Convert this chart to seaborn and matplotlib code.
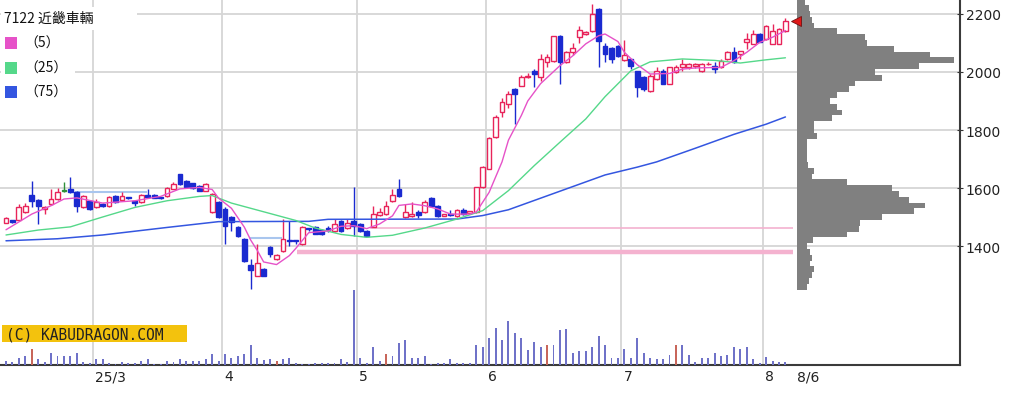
import numpy as np
import pandas as pd
import matplotlib
matplotlib.use("Agg")
import matplotlib.pyplot as plt
from matplotlib.patches import Rectangle
import seaborn as sns

# ----------------------------------------
# Data (daily candles, 7122 Kinki Sharyo)
# ----------------------------------------
title = "7122 近畿車輛"

opens = [1480, 1488, 1490, 1517, 1576, 1559, 1528, 1545, 1562, 1590,
         1597, 1586, 1535, 1555, 1535, 1545, 1538, 1573, 1559, 1568,
         1555, 1552, 1576, 1576, 1568, 1573, 1597, 1648, 1624, 1617,
         1607, 1590, 1517, 1552, 1528, 1500, 1466, 1424, 1335, 1297,
         1321, 1397, 1355, 1383, 1422, 1420, 1407, 1462, 1466, 1455,
         1462, 1452, 1486, 1462, 1486, 1476, 1452, 1466, 1507, 1510,
         1555, 1597, 1500, 1503, 1517, 1517, 1566, 1538, 1505, 1512,
         1503, 1524, 1514, 1517, 1603, 1666, 1776, 1862, 1890, 1941,
         1952, 1983, 2003, 1983, 2034, 2038, 2124, 2034, 2069, 2121,
         2131, 2141, 2217, 2090, 2083, 2090, 2040, 2045, 2003, 1983,
         1934, 1976, 2003, 1959, 2000, 2017, 2017, 2021, 2003, 2026,
         2021, 2017, 2045, 2069, 2062, 2103, 2097, 2131, 2114, 2097,
         2097, 2141]
highs = [1500, 1490, 1545, 1548, 1624, 1562, 1538, 1597, 1600, 1621,
         1638, 1590, 1576, 1558, 1562, 1548, 1572, 1576, 1586, 1568,
         1556, 1580, 1597, 1578, 1570, 1603, 1620, 1650, 1626, 1618,
         1610, 1617, 1582, 1555, 1535, 1505, 1470, 1428, 1355, 1407,
         1323, 1400, 1372, 1493, 1486, 1420, 1470, 1463, 1468, 1457,
         1468, 1493, 1490, 1493, 1603, 1478, 1455, 1538, 1531, 1555,
         1597, 1631, 1545, 1552, 1524, 1557, 1568, 1540, 1512, 1524,
         1527, 1531, 1522, 1605, 1675, 1775, 1850, 1910, 1935, 1945,
         1990, 1995, 2010, 2062, 2062, 2124, 2126, 2072, 2100, 2160,
         2140, 2234, 2220, 2100, 2085, 2092, 2110, 2046, 2005, 1986,
         1993, 2017, 2010, 2018, 2025, 2045, 2030, 2030, 2030, 2035,
         2033, 2045, 2072, 2085, 2074, 2135, 2145, 2133, 2161, 2165,
         2150, 2185]
lows = [1478, 1480, 1488, 1515, 1535, 1476, 1510, 1543, 1560, 1586,
        1583, 1517, 1532, 1525, 1532, 1535, 1535, 1550, 1556, 1562,
        1538, 1550, 1566, 1564, 1562, 1570, 1595, 1612, 1602, 1598,
        1588, 1588, 1515, 1498, 1407, 1452, 1432, 1345, 1252, 1295,
        1295, 1362, 1352, 1380, 1400, 1407, 1405, 1452, 1440, 1438,
        1450, 1450, 1450, 1460, 1435, 1450, 1433, 1464, 1505, 1508,
        1553, 1570, 1498, 1500, 1498, 1515, 1536, 1500, 1503, 1503,
        1500, 1508, 1512, 1515, 1600, 1664, 1774, 1845, 1875, 1821,
        1950, 1980, 1948, 1969, 2017, 2036, 1959, 2032, 2060, 2100,
        2128, 2139, 2017, 2034, 2030, 2052, 2038, 2012, 1914, 1934,
        1932, 1974, 1959, 1957, 1998, 2005, 2010, 2015, 2000, 2024,
        1995, 2015, 2043, 2030, 2045, 2080, 2095, 2103, 2112, 2095,
        2095, 2139]
closes = [1497, 1483, 1535, 1538, 1555, 1538, 1535, 1562, 1586, 1590,
          1586, 1538, 1573, 1528, 1552, 1538, 1569, 1552, 1573, 1564,
          1548, 1576, 1570, 1566, 1564, 1600, 1614, 1614, 1604, 1600,
          1590, 1614, 1579, 1500, 1469, 1483, 1435, 1348, 1318, 1341,
          1297, 1373, 1369, 1424, 1416, 1416, 1466, 1458, 1441, 1441,
          1455, 1476, 1452, 1479, 1469, 1452, 1435, 1510, 1517, 1538,
          1576, 1573, 1517, 1510, 1507, 1552, 1538, 1503, 1510, 1508,
          1524, 1510, 1519, 1603, 1672, 1772, 1845, 1896, 1924, 1924,
          1983, 1986, 1993, 2045, 2052, 2124, 2034, 2069, 2083, 2145,
          2138, 2200, 2107, 2062, 2045, 2055, 2060, 2021, 1948, 1941,
          1986, 2003, 1959, 2017, 2017, 2028, 2028, 2026, 2028, 2029,
          2010, 2038, 2069, 2034, 2072, 2114, 2131, 2103, 2159, 2141,
          2148, 2176]

# volume (arbitrary units), days with a red volume bar
volume = [4, 2.7, 7, 9, 15.7, 5.7, 2.7, 12.3, 9, 9,
          9, 12.3, 3.3, 2.3, 5.7, 5.7, 1.7, 1, 2.7, 1.7,
          2.3, 4, 5.7, 1, 1, 4, 3.3, 5.7, 4, 4,
          4, 5.7, 10.7, 4, 10.7, 7.3, 9, 10.7, 20, 7.3,
          5, 5.7, 4, 5.7, 7.3, 2.3, 0.7, 1, 1.7, 2.3,
          1.7, 2.3, 5.7, 3.3, 75, 7.3, 2.3, 18.3, 4, 10.7,
          9, 21.7, 25, 7.3, 7.3, 9, 1, 1.7, 2.3, 5.7,
          2.3, 2.3, 1.7, 20, 18.3, 26.7, 36.7, 25, 44.3, 31.7,
          26.7, 15, 23.3, 18.3, 20, 20, 35, 36, 12.3, 14,
          14, 18.3, 29.3, 20, 7.3, 7.3, 15.7, 7.3, 26.7, 12.3,
          7.3, 5.7, 5.7, 10, 20, 20, 10, 3.3, 7.3, 7.3,
          11.7, 9, 10, 18.3, 15.7, 18.3, 5.7, 2.3, 8.3, 4,
          2.7, 3.3]
red_volume_days = [4, 42, 59, 84, 104]

# moving averages sampled from the chart (day index -> price)
ma5_days = [0, 4, 7, 9, 11, 15, 20, 24, 27, 30, 32, 33, 35, 37, 38, 39, 40, 42, 44, 45,
            47, 50, 52, 54, 56, 58, 60, 61, 63, 65, 67, 69, 72, 73, 75, 77, 78, 80, 81,
            83, 86, 88, 90, 92, 93, 95, 96, 98, 100, 103, 105, 107, 111, 113, 115, 117,
            119, 121]
ma5_vals = [1456, 1510, 1539, 1562, 1566, 1548, 1556, 1571, 1597, 1602, 1595, 1565, 1530,
            1465, 1420, 1385, 1345, 1336, 1367, 1392, 1446, 1452, 1468, 1470, 1460, 1476,
            1504, 1540, 1545, 1539, 1528, 1510, 1510, 1517, 1585, 1690, 1765, 1850, 1900,
            1960, 2022, 2056, 2097, 2125, 2131, 2105, 2068, 2025, 1993, 1995, 2010, 2014,
            2016, 2039, 2068, 2102, 2120, 2143]
ma25_days = [0, 5, 10, 15, 20, 25, 30, 32, 35, 40, 45, 48, 52, 56, 60, 65, 70, 74, 78,
             82, 86, 90, 93, 97, 100, 105, 110, 114, 118, 121]
ma25_vals = [1438, 1455, 1466, 1500, 1533, 1556, 1571, 1574, 1548, 1518, 1488, 1462, 1440,
             1430, 1437, 1462, 1493, 1522, 1591, 1677, 1758, 1838, 1915, 2004, 2035, 2045,
             2040, 2031, 2042, 2049]
ma75_days = [0, 8, 15, 25, 33, 47, 50, 70, 74, 78, 83, 88, 93, 98, 101, 107, 113, 118, 121]
ma75_vals = [1418, 1425, 1438, 1464, 1484, 1485, 1492, 1493, 1505, 1525, 1565, 1605, 1645,
             1672, 1690, 1737, 1785, 1820, 1845]

# volume-at-price profile (20 yen bins, top to bottom)
profile_prices = list(range(2240, 1250, -20))
profile_vol = [8, 12, 13, 15, 17, 40, 68, 70, 97, 133,
               157, 122, 78, 85, 58, 52, 40, 33, 40, 45,
               35, 17, 17, 20, 10, 10, 10, 10, 11, 17,
               15, 50, 95, 102, 112, 128, 117, 85, 63, 62,
               50, 16, 10, 13, 15, 13, 17, 15, 12, 10]

month_labels = ["25/3", "4", "5", "6", "7", "8"]
month_first_day = [14, 34, 55, 75, 96, 118]
last_label = "8/6"

price_ticks = [1400, 1600, 1800, 2000, 2200]

# ----------------------------------------
# Styling
# ----------------------------------------
sns.set_style("white")
plt.rcParams['font.family'] = ['DejaVu Sans', 'Noto Sans CJK JP']

RED = "#e8245a"
BLUE = "#1a2ad0"
GREEN = "#2f8f3a"
MA5_C = "#e652c8"
MA25_C = "#55d88a"
MA75_C = "#3456e0"
GRID_C = "#d6d6d6"

df = pd.DataFrame({"open": opens, "high": highs, "low": lows, "close": closes, "volume": volume})
df["day"] = np.arange(len(df))

fig = plt.figure(figsize=(10.3, 4.02), dpi=100)
rect = [0, 1 - 366 / 402, 960 / 1030, 366 / 402]
ax = fig.add_axes(rect)
ax.set_xlim(-0.93, 148.1)
ax.set_ylim(989.7, 2251.7)
px_per_day = 960 / (148.1 + 0.93)

# grid
for p in price_ticks:
    ax.axhline(p, color=GRID_C, lw=1.3, zorder=0)
for d in month_first_day:
    ax.axvline(d - 0.5, color=GRID_C, lw=1.3, zorder=0)

# reference lines
ax.hlines(1586, 10.7, 21.9, color="#a9c6ee", lw=1.5, zorder=1)
ax.hlines(1428, 37.7, 42.9, color="#a9c6ee", lw=1.5, zorder=1)
ax.hlines(1462, 56.5, 122.2, color="#f4b2cf", lw=1.2, zorder=1)
ax.hlines(1380, 45.2, 122.2, color="#f4b2cf", lw=3.2, zorder=1)

# candles
up = df["close"] > df["open"]
down = df["close"] < df["open"]
colors = np.where(up, RED, np.where(down, BLUE, GREEN))
ax.vlines(df["day"], df["low"], df["high"], colors=colors, lw=1.0, zorder=3)
body_bottom = np.minimum(df["open"], df["close"])
body_height = np.maximum((df["close"] - df["open"]).abs(), 2.5)
faces = np.where(up, "white", colors)
ax.bar(df["day"], body_height, bottom=body_bottom, width=0.74,
       color=faces, edgecolor=colors, linewidth=1.0, zorder=4)

# moving averages
sns.lineplot(x=ma75_days, y=ma75_vals, ax=ax, color=MA75_C, lw=1.1, zorder=5)
sns.lineplot(x=ma25_days, y=ma25_vals, ax=ax, color=MA25_C, lw=1.0, zorder=5)
sns.lineplot(x=ma5_days, y=ma5_vals, ax=ax, color=MA5_C, lw=1.0, zorder=6)

# last price marker
ax.plot([len(df) + 0.6], [df["close"].iloc[-1]], marker="<", ms=7,
        color="#e01818", mec="#701010", mew=0.6, zorder=7)

# volume profile at the right
prof_scale = 1 / px_per_day
ax.barh(profile_prices, np.array(profile_vol) * prof_scale, height=20,
        left=len(df) + 0.8, color="#808080", linewidth=0, zorder=2)

# axes cosmetics
sns.despine(ax=ax, top=True, left=True, right=False, bottom=False)
for side in ["right", "bottom"]:
    ax.spines[side].set_color("#3a3a3a")
    ax.spines[side].set_linewidth(1.5)
ax.yaxis.tick_right()
ax.set_yticks(price_ticks)
ax.set_yticklabels([str(p) for p in price_ticks])
ax.tick_params(axis="y", length=4, direction="inout", pad=2, labelsize=10,
               colors="#333333", labelcolor="#222222")
xt = [d - 0.5 + 0.35 for d in month_first_day] + [len(df) + 0.8]
ax.set_xticks(xt)
ax.set_xticklabels(month_labels + [last_label])
ax.tick_params(axis="x", length=0, pad=3, labelsize=10, labelcolor="#222222")
for lbl in ax.get_xticklabels():
    lbl.set_ha("left")
ax.set_xlabel("")
ax.set_ylabel("")

# volume bars in the lower part
axv = fig.add_axes(rect, sharex=ax)
axv.patch.set_alpha(0)
axv.set_ylim(0, 366)
vol_colors = ["#c8665a" if d in red_volume_days else "#6f72c8" for d in df["day"]]
axv.bar(df["day"], df["volume"], width=0.3, color=vol_colors, linewidth=0, zorder=2)
axv.axis("off")


def px(x, y):
    return x / 960, 1 - y / 366


# legend block
ax.add_patch(Rectangle(px(1, 31), 136 / 960, 23 / 366, transform=ax.transAxes,
                       facecolor="white", edgecolor="none", zorder=8))
ax.add_patch(Rectangle(px(1, 102), 74 / 960, 71 / 366, transform=ax.transAxes,
                       facecolor="white", edgecolor="none", zorder=8))
ax.text(*px(4, 19), title, transform=ax.transAxes, fontsize=10, va="center",
        ha="left", family=["Noto Sans CJK JP", "DejaVu Sans"], color="#111111", zorder=9)
for y, lab, c in [(44, "（5）", MA5_C), (69, "（25）", MA25_C), (93, "（75）", MA75_C)]:
    ax.add_patch(Rectangle(px(5, y + 6), 12 / 960, 12 / 366, transform=ax.transAxes,
                           facecolor=c, edgecolor="none", zorder=9))
    ax.text(*px(24, y), lab, transform=ax.transAxes, fontsize=10, va="center",
            ha="left", family=["Noto Sans CJK JP", "DejaVu Sans"], color="#111111", zorder=9)

# copyright box
ax.add_patch(Rectangle(px(2, 343), 185 / 960, 17 / 366, transform=ax.transAxes,
                       facecolor="#f3c20d", edgecolor="none", zorder=8))
ax.text(*px(6, 335), "(C) KABUDRAGON.COM", transform=ax.transAxes, fontsize=10.5,
        va="center", ha="left", family="DejaVu Sans Mono", color="#222222", zorder=9)

fig.savefig("out.png", dpi=100)
